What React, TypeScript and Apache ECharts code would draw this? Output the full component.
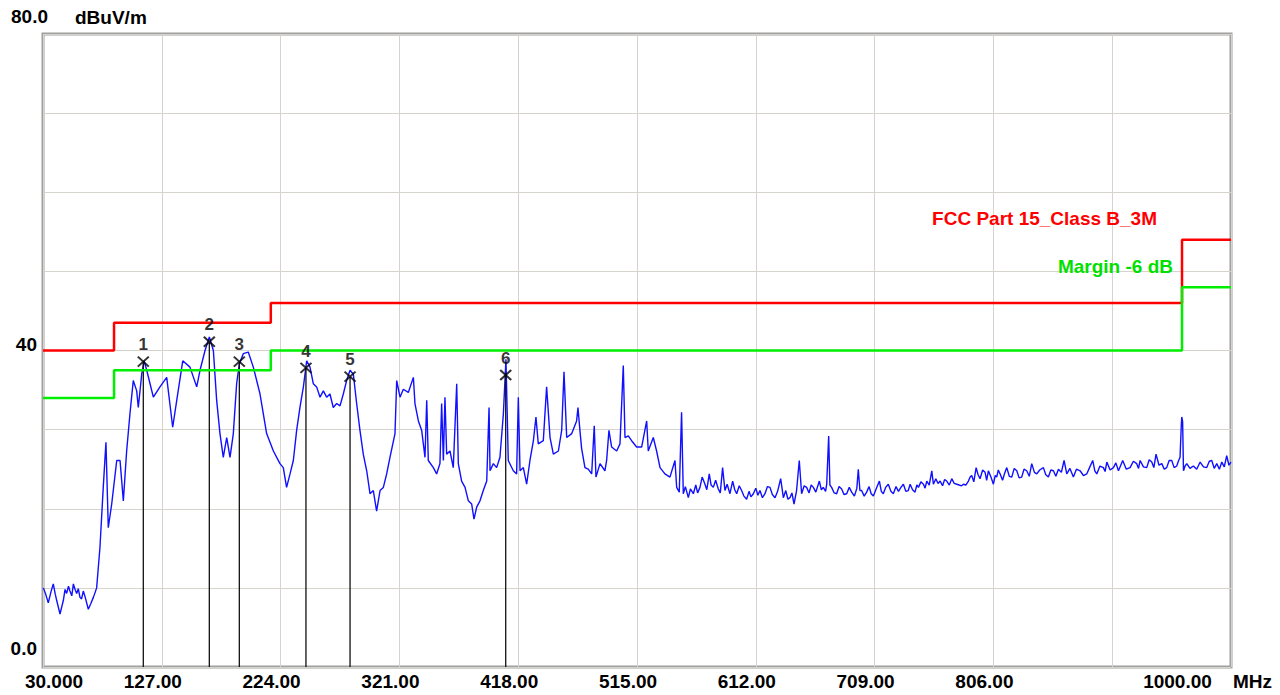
import React, { useEffect, useRef } from "react";
import * as echarts from "echarts";

// ---- axis definitions ----
const X_START = 30; // MHz
const X_END = 1000; // MHz
const X_STEP = 97; // MHz per division
const xTickLabels = ["30.000", "127.00", "224.00", "321.00", "418.00", "515.00", "612.00", "709.00", "806.00", "", "1000.00"];
const Y_MIN = 0;
const Y_MAX = 80;
const Y_STEP = 10;
const yTickLabels: Record<number, string> = { 0: "0.0", 40: "40", 80: "80.0" };
const yUnit = "dBuV/m";
const xUnit = "MHz";

// ---- limit lines (step) ----
const limitFreq = [30, 88, 216, 960, 1000];
const limitLevel = [40, 43.5, 46, 54, 54];
const marginLevel = [34, 37.5, 40, 48, 48];
const limitName = "FCC Part 15_Class B_3M";
const marginName = "Margin -6 dB";

// ---- markers ----
const markerFreq = [111.9, 165.8, 190.3, 244.7, 280.7, 407.8];
const markerLevel = [38.6, 41.1, 38.6, 37.8, 36.7, 36.9];

// ---- measured trace [MHz, dBuV/m] ----
const trace: [number, number][] = [
  [30.3, 10.0], [32.0, 9.3], [34.3, 8.1], [36.5, 9.5], [38.4, 10.5], [40.0, 9.2], [41.2, 8.4], [43.9, 6.7], [45.3, 7.6], [46.6, 8.4],
  [48.0, 9.8], [49.3, 9.3], [50.8, 10.2], [52.0, 9.6], [53.5, 9.0], [54.8, 10.5], [56.2, 9.8], [57.5, 9.3], [58.8, 9.9], [60.2, 8.8],
  [61.5, 8.6], [62.9, 9.6], [64.5, 8.8], [67.0, 7.3], [69.0, 8.0], [71.1, 8.8], [72.5, 9.4], [73.8, 10.0],
  [76.5, 15.1], [79.2, 22.7], [81.4, 28.4], [83.3, 17.6], [86.1, 20.6], [90.2, 26.1], [92.9, 26.1],
  [95.6, 21.0], [98.3, 27.3], [101.0, 32.0], [103.7, 36.2], [106.5, 34.9], [107.8, 32.8], [110.6, 37.0], [112.5, 38.7],
  [114.7, 37.5], [117.4, 35.8], [120.1, 34.1], [125.5, 35.4], [131.0, 36.6], [135.9, 30.3], [139.2, 33.7], [144.1, 38.7],
  [150.0, 37.9], [155.5, 35.4], [158.2, 37.5], [162.3, 40.0], [165.8, 41.7], [169.1, 40.0], [171.8, 33.7], [174.5, 29.5],
  [177.2, 26.5], [180.0, 29.0], [182.7, 26.5], [185.4, 29.5], [188.1, 35.8], [190.3, 38.3], [193.5, 39.6], [197.6, 39.8],
  [201.7, 37.9], [207.2, 34.5], [212.6, 29.5], [218.1, 27.3],
  [223.5, 25.7], [226.2, 25.2], [228.9, 22.7], [231.7, 24.4], [234.4, 26.1], [237.1, 29.9], [239.8, 32.8], [242.6, 35.4],
  [245.3, 38.7], [248.0, 37.9], [250.7, 35.8], [253.4, 35.4], [256.2, 34.1], [258.9, 34.9], [261.6, 34.1], [264.3, 34.5],
  [267.0, 32.8], [269.8, 33.3], [272.5, 33.0], [275.2, 34.5], [277.9, 36.2], [280.7, 37.5], [283.4, 37.0], [286.1, 33.3],
  [288.8, 29.9], [291.5, 26.9], [294.3, 24.8], [297.0, 21.9], [299.7, 22.3], [302.4, 19.7], [305.2, 22.3], [307.9, 22.7],
  [310.6, 24.4], [313.3, 26.5], [317.4, 29.5], [318.8, 36.2], [321.5, 34.1], [324.2, 35.1], [328.3, 34.7], [332.4, 36.6],
  [333.7, 33.3], [336.5, 31.1], [339.2, 29.9], [341.9, 26.5], [343.3, 33.7], [344.6, 26.1], [348.7, 25.2], [351.4, 24.4],
  [354.1, 25.7], [355.5, 33.3], [356.9, 26.1], [358.2, 34.1], [359.6, 26.9], [362.3, 27.3], [365.0, 25.2], [367.8, 35.8],
  [369.1, 25.7], [371.8, 23.5], [374.6, 22.7], [377.3, 21.0], [380.0, 20.6], [381.9, 18.7], [384.1, 20.2], [386.8, 21.0],
  [389.5, 22.3], [392.3, 23.5], [394.2, 32.8], [395.0, 24.8], [397.7, 25.7], [400.4, 25.2], [403.1, 26.5], [405.9, 32.0],
  [408.0, 38.9], [409.9, 26.1], [414.0, 24.8], [416.7, 24.4], [418.1, 34.1], [419.5, 24.8], [422.2, 25.2], [424.9, 23.1],
  [427.6, 26.1], [430.4, 28.6], [432.5, 31.6], [434.4, 28.2], [438.5, 28.6], [441.2, 35.4], [444.0, 29.0], [446.7, 26.9],
  [450.8, 27.3], [453.5, 29.9], [455.4, 37.3], [457.6, 29.0], [461.7, 29.5], [465.7, 31.1],
  [466.8, 32.8], [468.4, 29.9], [469.8, 27.6], [472.5, 25.2], [475.2, 25.0], [478.0, 24.4], [480.1, 30.5], [481.5, 24.0],
  [484.8, 25.7], [488.8, 24.8], [490.2, 26.1], [492.1, 29.9], [494.3, 27.8], [498.4, 27.3], [501.1, 28.2], [503.8, 38.1],
  [505.2, 29.0], [507.9, 29.2], [510.6, 28.6], [514.7, 27.8], [518.8, 27.8], [522.9, 31.1], [524.2, 27.3], [528.3, 29.0],
  [531.0, 27.3], [533.8, 25.2], [537.8, 24.4], [541.9, 24.0], [546.0, 26.1], [547.4, 22.7], [549.5, 22.1], [551.4, 32.2],
  [552.8, 21.9], [554.5, 22.8], [556.9, 21.4], [558.6, 22.5], [561.0, 21.9], [563.0, 23.0], [564.5, 22.0], [566.4, 22.7],
  [568.2, 24.0], [570.5, 23.1], [572.0, 22.4], [574.0, 24.4], [575.5, 23.0], [577.3, 22.7], [579.2, 23.6], [581.4, 22.5],
  [583.0, 22.0], [584.9, 25.2], [586.8, 22.3], [588.6, 23.1], [590.9, 21.9], [593.1, 23.5], [594.8, 22.4], [596.4, 21.9],
  [598.5, 22.9], [600.4, 22.3], [602.3, 21.6], [604.5, 21.2], [606.5, 22.2], [608.0, 21.5], [610.0, 21.9], [612.0, 22.6],
  [613.7, 21.7], [615.4, 22.3], [617.4, 21.4], [619.5, 21.9], [621.5, 22.8], [623.6, 22.7], [625.5, 21.8], [627.7, 21.4],
  [629.8, 22.2], [632.3, 23.8], [634.5, 21.4], [636.5, 22.3], [638.2, 21.2], [639.9, 21.4], [641.5, 22.0], [643.2, 20.6],
  [645.3, 22.3], [647.5, 26.1], [649.4, 21.9], [651.5, 22.9], [653.5, 22.7], [655.5, 22.0], [657.2, 23.0], [659.0, 22.7],
  [661.0, 22.1], [663.9, 23.5], [665.5, 22.4], [667.1, 22.7], [669.0, 22.2], [669.9, 23.1], [671.5, 29.2], [672.5, 23.0],
  [673.9, 22.7], [676.0, 22.0], [678.0, 21.9], [680.0, 22.8], [682.1, 22.5], [684.0, 21.8], [686.2, 21.9], [688.3, 22.7],
  [690.3, 22.1], [692.5, 21.6], [694.5, 22.6], [695.7, 25.0], [697.0, 22.3], [698.4, 22.3], [700.5, 21.6], [702.5, 22.1],
  [704.5, 22.8], [706.2, 21.9], [708.0, 21.6], [710.0, 22.4], [712.9, 23.5], [714.5, 22.2], [716.1, 21.9], [718.0, 22.7],
  [720.2, 23.1], [722.3, 22.2], [724.3, 21.9], [726.5, 22.8], [728.5, 22.2], [730.5, 22.7], [732.5, 23.1], [734.5, 22.2],
  [736.5, 22.3], [738.0, 23.1], [740.0, 22.4], [742.0, 22.1], [743.5, 23.0], [744.8, 22.7], [746.8, 23.4], [748.9, 23.1],
  [750.2, 22.6], [751.6, 23.5], [753.6, 23.0], [755.7, 24.8], [757.0, 23.1], [759.0, 23.8], [760.8, 23.2], [762.5, 23.5],
  [764.5, 22.9], [766.2, 23.7], [767.9, 23.5], [770.0, 23.0], [772.0, 23.8], [774.0, 23.2], [776.1, 23.1], [778.0, 23.0],
  [780.0, 22.9], [781.5, 23.1], [783.5, 23.0], [785.6, 23.5], [787.0, 24.0], [788.3, 24.2], [790.0, 23.4], [791.9, 25.2],
  [793.5, 24.3], [795.1, 23.8], [797.2, 24.9], [799.2, 24.6], [800.5, 23.6], [801.9, 24.8], [804.0, 24.0], [806.0, 23.1],
  [807.5, 24.2], [808.7, 24.0], [810.0, 24.9], [811.5, 24.4], [813.5, 23.6], [815.2, 24.5], [816.9, 25.2], [819.0, 24.1],
  [821.0, 24.0], [823.0, 25.1], [825.1, 24.8], [827.0, 23.9], [829.1, 24.0], [831.0, 25.0], [833.2, 24.8], [835.3, 24.1],
  [837.3, 25.7], [839.5, 24.6], [841.4, 24.4], [843.8, 24.9], [846.8, 25.2], [848.8, 24.3], [850.9, 24.0], [852.9, 24.9],
  [855.0, 24.8], [857.0, 24.1], [859.1, 25.0], [861.5, 24.6], [863.7, 26.1], [865.9, 24.4], [868.5, 25.1], [871.3, 24.0],
  [873.8, 25.0], [876.8, 24.8], [879.5, 24.2], [882.2, 24.4], [884.5, 25.2], [887.1, 26.1], [888.8, 24.8], [890.4, 24.4],
  [893.0, 25.4], [895.8, 25.2], [897.2, 24.7], [898.6, 25.9], [901.3, 24.9], [904.0, 25.2], [906.0, 25.8], [908.1, 24.8],
  [910.0, 25.5], [911.6, 26.1], [914.5, 25.0], [917.6, 25.2], [920.3, 26.0], [923.0, 25.7], [924.5, 25.1], [925.8, 26.1],
  [928.5, 25.3], [931.2, 25.2], [933.2, 26.2], [935.3, 25.9], [937.0, 25.2], [938.8, 26.9], [941.2, 25.5], [943.5, 25.7],
  [945.5, 25.0], [947.5, 25.2], [949.5, 26.1], [951.6, 26.1], [953.6, 25.2], [955.7, 25.4], [957.0, 26.0], [958.4, 26.5],
  [959.4, 30.5], [959.8, 31.6], [960.5, 31.0], [961.2, 24.8], [962.5, 25.4], [963.9, 25.7], [966.5, 25.1], [969.3, 25.4],
  [972.0, 25.0], [974.8, 25.9], [977.5, 25.3], [980.2, 25.2], [982.3, 26.0], [984.3, 26.1], [986.3, 25.1], [988.4, 25.7],
  [990.5, 25.0], [992.5, 25.9], [994.5, 25.3], [996.5, 26.7], [998.3, 25.5], [1000, 25.9],
];

const FONT = "'Liberation Sans', Arial, sans-serif";

export default function App() {
  const ref = useRef<HTMLDivElement>(null);

  useEffect(() => {
    if (!ref.current) return;
    const chart = echarts.init(ref.current, null, { renderer: "svg" });
    const off = (f: number) => f - X_START;
    const boldText = { fontFamily: FONT, fontWeight: "bold", fontSize: 19, color: "#000" };

    const option: any = {
      animation: false,
      backgroundColor: "#ffffff",
      grid: {
        left: 43,
        right: 49,
        top: 34,
        bottom: 28,
        show: true,
        borderColor: "#a0a0a0",
        borderWidth: 3,
        backgroundColor: "transparent",
      },
      xAxis: {
        type: "value",
        min: 0,
        max: X_END - X_START,
        interval: X_STEP,
        axisLine: { show: false },
        axisTick: { show: false },
        splitLine: { show: true, lineStyle: { color: "#d6d2cc", width: 1 } },
        axisLabel: {
          margin: 5,
          alignMinLabel: "center",
          alignMaxLabel: "center",
          ...boldText,
          formatter: (v: number) => {
            const i = Math.round(v / X_STEP);
            const t = xTickLabels[i] ?? "";
            if (!t) return "";
            if (i === 0) return `{first|${t}}`;
            if (i === xTickLabels.length - 1) return `{last|${t}}`;
            return `{mid|${t}}`;
          },
          rich: {
            first: { ...boldText, padding: [0, 0, 0, 22] },
            mid: { ...boldText, padding: [0, 18, 0, 0] },
            last: { ...boldText, padding: [0, 107, 0, 0] },
          },
        },
      },
      yAxis: {
        type: "value",
        min: Y_MIN,
        max: Y_MAX,
        interval: Y_STEP,
        name: yUnit,
        nameLocation: "end",
        nameGap: 17,
        nameTextStyle: {
          ...boldText,
          align: "left",
          verticalAlign: "middle",
          padding: [0, 0, 0, 32],
        },
        axisLine: { show: false },
        axisTick: { show: false },
        splitLine: { show: true, lineStyle: { color: "#d6d2cc", width: 1 } },
        axisLabel: {
          margin: -5,
          ...boldText,
          formatter: (v: number) => {
            const t = yTickLabels[v];
            if (!t) return "";
            if (v === Y_MIN) return `{lo|${t}}`;
            if (v === Y_MAX) return `{hi|${t}}`;
            return `{md|${t}}`;
          },
          rich: {
            lo: { ...boldText, padding: [0, 11, 38, 0] },
            md: { ...boldText, padding: [0, 11, 12, 0] },
            hi: { ...boldText, padding: [0, 0, 35, 0] },
          },
        },
      },
      graphic: [
        {
          type: "text",
          x: 1157,
          y: 218,
          z: 10,
          style: {
            text: limitName,
            fill: "#ff0000",
            font: `bold 19px ${FONT}`,
            textAlign: "right",
            textVerticalAlign: "middle",
            align: "right",
            verticalAlign: "middle",
          },
        },
        {
          type: "text",
          x: 1173,
          y: 266,
          z: 10,
          style: {
            text: marginName,
            fill: "#00e000",
            font: `bold 19px ${FONT}`,
            textAlign: "right",
            textVerticalAlign: "middle",
            align: "right",
            verticalAlign: "middle",
          },
        },
        {
          type: "text",
          x: 1233,
          y: 681,
          z: 10,
          style: {
            text: xUnit,
            fill: "#000",
            font: `bold 19px ${FONT}`,
            textAlign: "left",
            textVerticalAlign: "middle",
            align: "left",
            verticalAlign: "middle",
          },
        },
      ],
      series: [
        {
          type: "line",
          name: "trace",
          data: trace.map(([f, v]) => [off(f), v]),
          showSymbol: false,
          symbol: "none",
          lineStyle: { color: "#1010ff", width: 1.4 },
          z: 2,
          silent: true,
        },
        {
          type: "custom",
          name: "markerLines",
          data: markerFreq.map((f, i) => [off(f), markerLevel[i]]),
          renderItem: (_p: any, api: any) => {
            const top = api.coord([api.value(0), api.value(1)]);
            const bot = api.coord([api.value(0), Y_MIN]);
            return {
              type: "line",
              shape: { x1: top[0], y1: top[1], x2: bot[0], y2: bot[1] },
              style: { stroke: "#111", lineWidth: 1.3 },
            };
          },
          z: 3,
          silent: true,
        },
        {
          type: "line",
          name: limitName,
          step: "end",
          data: limitFreq.map((f, i) => [off(f), limitLevel[i]]),
          showSymbol: false,
          symbol: "none",
          lineStyle: { color: "#ff0000", width: 2.5 },
          z: 4,
          silent: true,
        },
        {
          type: "line",
          name: marginName,
          step: "end",
          data: limitFreq.map((f, i) => [off(f), marginLevel[i]]),
          showSymbol: false,
          symbol: "none",
          lineStyle: { color: "#00ee00", width: 2.5 },
          z: 4,
          silent: true,
        },
        {
          type: "scatter",
          name: "markers",
          data: markerFreq.map((f, i) => [off(f), markerLevel[i]]),
          symbol: "path://M0 0L10 10M10 0L0 10",
          symbolSize: [11, 10],
          itemStyle: { color: "none", borderColor: "#000", borderWidth: 2 },
          label: {
            show: true,
            position: "top",
            distance: 1,
            color: "#000",
            fontFamily: FONT,
            fontWeight: "bold",
            fontSize: 17,
            formatter: (p: any) => String(p.dataIndex + 1),
          },
          z: 5,
          silent: true,
        },
      ],
    };

    chart.setOption(option);
    return () => chart.dispose();
  }, []);

  return (
    <div
      ref={ref}
      style={{ position: "fixed", left: 0, top: 0, width: 1280, height: 695, background: "#fff" }}
    />
  );
}
